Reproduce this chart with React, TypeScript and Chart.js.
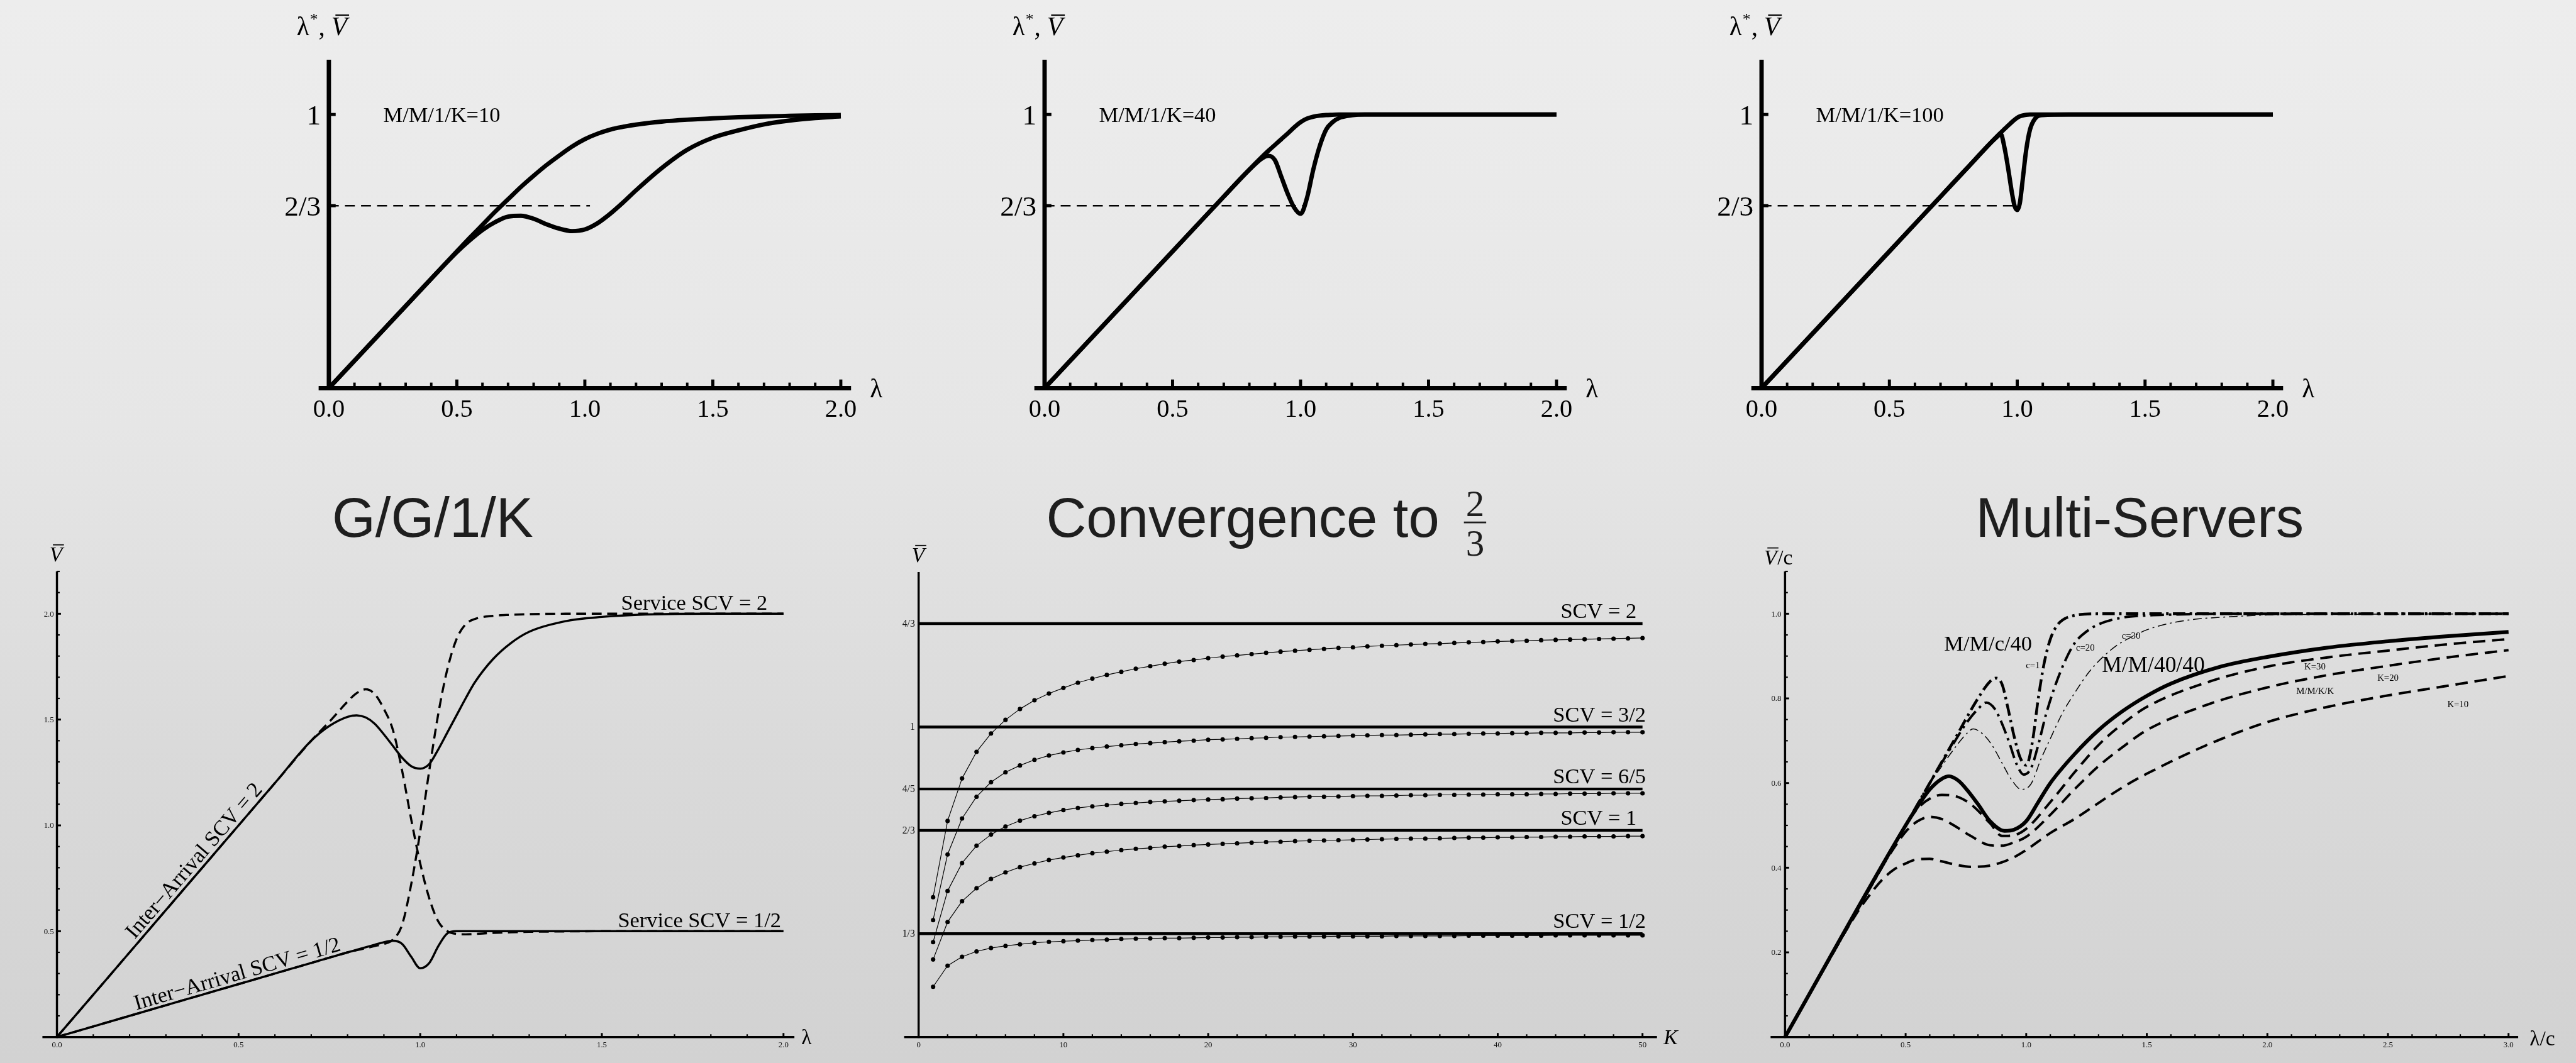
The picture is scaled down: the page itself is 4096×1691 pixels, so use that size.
import React, { useEffect, useRef } from "react";
import { Chart, registerables } from "chart.js";

Chart.register(...registerables);

const SCALE = 4096 / 4162;
const PAGE_W = 4096;
const PAGE_H = 1691;
const SERIF = '"Liberation Serif", "Times New Roman", serif';
const SANS = '"Liberation Sans", Arial, Helvetica, sans-serif';
const INK = "#000";
const TITLE_INK = "#1e1e1e";

// ---------- M/M/1/K, K = 10 ----------
const k10Lambda = [0, 0.1, 0.2, 0.3, 0.4, 0.5, 0.55, 0.6, 0.65, 0.7, 0.75, 0.8, 0.85, 0.9, 0.95, 1.0, 1.05, 1.1, 1.15, 1.2, 1.3, 1.4, 1.5, 1.6, 1.7, 1.8, 1.9, 2.0];
const k10Throughput = [0, 0.1, 0.2, 0.3, 0.4, 0.5, 0.549, 0.597, 0.645, 0.69, 0.735, 0.776, 0.815, 0.85, 0.883, 0.91, 0.93, 0.945, 0.955, 0.963, 0.974, 0.981, 0.986, 0.99, 0.993, 0.995, 0.997, 0.998];
const k10Variance = [0, 0.1, 0.2, 0.3, 0.4, 0.497, 0.54, 0.578, 0.607, 0.627, 0.63, 0.619, 0.599, 0.583, 0.574, 0.58, 0.603, 0.638, 0.679, 0.723, 0.804, 0.871, 0.915, 0.942, 0.964, 0.978, 0.987, 0.993];

// ---------- M/M/1/K, K = 40 ----------
const k40Lambda = [0, 0.1, 0.2, 0.3, 0.4, 0.5, 0.6, 0.7, 0.8, 0.85, 0.875, 0.9, 0.925, 0.95, 0.975, 1.0, 1.025, 1.05, 1.075, 1.1, 1.125, 1.15, 1.2, 1.25, 1.3, 1.4, 1.6, 1.8, 2.0];
const k40Throughput = [0, 0.1, 0.2, 0.3, 0.4, 0.5, 0.6, 0.7, 0.799, 0.846, 0.868, 0.889, 0.91, 0.931, 0.953, 0.972, 0.985, 0.992, 0.996, 0.998, 0.999, 1, 1, 1, 1, 1, 1, 1, 1];
const k40Variance = [0, 0.1, 0.2, 0.3, 0.4, 0.5, 0.6, 0.7, 0.798, 0.84, 0.849, 0.833, 0.772, 0.71, 0.66, 0.637, 0.695, 0.8, 0.885, 0.945, 0.972, 0.987, 0.997, 1, 1, 1, 1, 1, 1];

// ---------- M/M/1/K, K = 100 ----------
const k100Lambda = [0, 0.1, 0.2, 0.3, 0.4, 0.5, 0.6, 0.7, 0.8, 0.9, 0.925, 0.935, 0.95, 0.965, 0.98, 0.99, 1.0, 1.01, 1.02, 1.035, 1.05, 1.07, 1.1, 1.2, 1.5, 2.0];
const k100Throughput = [0, 0.1, 0.2, 0.3, 0.4, 0.5, 0.6, 0.7, 0.8, 0.9, 0.924, 0.933, 0.947, 0.96, 0.973, 0.981, 0.988, 0.993, 0.996, 0.999, 1, 1, 1, 1, 1, 1];
const k100Variance = [0, 0.1, 0.2, 0.3, 0.4, 0.5, 0.6, 0.7, 0.8, 0.9, 0.922, 0.93, 0.88, 0.8, 0.71, 0.665, 0.651, 0.675, 0.75, 0.87, 0.945, 0.985, 0.998, 1, 1, 1];

// ---------- G/G/1/K ----------
const ggkLambda = [0, 0.1, 0.2, 0.3, 0.4, 0.5, 0.6, 0.7, 0.75, 0.8, 0.825, 0.85, 0.875, 0.9, 0.925, 0.95, 0.975, 1.0, 1.025, 1.05, 1.075, 1.1, 1.125, 1.15, 1.2, 1.25, 1.3, 1.4, 1.5, 1.6, 1.8, 2.0];
// inter-arrival SCV 2, service SCV 2 (solid)
const ggkArr2Svc2 = [0, 0.2, 0.4, 0.6, 0.8, 1.0, 1.2, 1.4, 1.47, 1.513, 1.52, 1.51, 1.48, 1.43, 1.375, 1.32, 1.28, 1.268, 1.29, 1.36, 1.44, 1.52, 1.6, 1.675, 1.785, 1.862, 1.915, 1.965, 1.985, 1.995, 2.0, 2.0];
// inter-arrival SCV 2, service SCV 1/2 (dashed)
const ggkArr2SvcHalf = [0, 0.2, 0.4, 0.6, 0.8, 1.0, 1.2, 1.4, 1.49, 1.585, 1.625, 1.643, 1.62, 1.55, 1.45, 1.26, 1.03, 0.82, 0.655, 0.545, 0.5, 0.487, 0.485, 0.487, 0.492, 0.495, 0.497, 0.499, 0.5, 0.5, 0.5, 0.5];
// inter-arrival SCV 1/2, service SCV 2 (dashed)
const ggkArrHalfSvc2 = [0, 0.05, 0.1, 0.15, 0.2, 0.25, 0.3, 0.35, 0.375, 0.4, 0.41, 0.42, 0.43, 0.44, 0.46, 0.53, 0.72, 0.97, 1.26, 1.53, 1.74, 1.88, 1.95, 1.975, 1.99, 1.995, 1.998, 2.0, 2.0, 2.0, 2.0, 2.0];
// inter-arrival SCV 1/2, service SCV 1/2 (solid)
const ggkArrHalfSvcHalf = [0, 0.05, 0.1, 0.15, 0.2, 0.25, 0.3, 0.35, 0.375, 0.4, 0.412, 0.424, 0.436, 0.448, 0.455, 0.44, 0.38, 0.325, 0.35, 0.43, 0.49, 0.5, 0.5, 0.5, 0.5, 0.5, 0.5, 0.5, 0.5, 0.5, 0.5, 0.5];

// ---------- Convergence to 2/3 ----------
const bufferSizes = [1, 2, 3, 4, 5, 6, 7, 8, 9, 10, 11, 12, 13, 14, 15, 16, 17, 18, 19, 20, 21, 22, 23, 24, 25, 26, 27, 28, 29, 30, 31, 32, 33, 34, 35, 36, 37, 38, 39, 40, 41, 42, 43, 44, 45, 46, 47, 48, 49, 50];
const limitSpan = [0, 50];
const scvLimits = [4 / 3, 1, 4 / 5, 2 / 3, 1 / 3];
const scvLimitTickLabels = ["4/3", "1", "4/5", "2/3", "1/3"];
const scvCurveLabels = ["SCV = 2", "SCV = 3/2", "SCV = 6/5", "SCV = 1", "SCV = 1/2"];
const vbarScv2 = [0.451, 0.697, 0.834, 0.92, 0.979, 1.023, 1.058, 1.086, 1.108, 1.126, 1.143, 1.156, 1.168, 1.178, 1.188, 1.196, 1.204, 1.211, 1.216, 1.222, 1.227, 1.231, 1.235, 1.239, 1.243, 1.246, 1.249, 1.252, 1.255, 1.257, 1.26, 1.262, 1.264, 1.266, 1.268, 1.269, 1.271, 1.273, 1.274, 1.276, 1.277, 1.278, 1.28, 1.281, 1.282, 1.283, 1.284, 1.285, 1.286, 1.287];
const vbarScv3_2 = [0.377, 0.589, 0.705, 0.775, 0.822, 0.854, 0.876, 0.894, 0.908, 0.918, 0.926, 0.932, 0.937, 0.941, 0.945, 0.948, 0.951, 0.954, 0.956, 0.959, 0.96, 0.962, 0.964, 0.965, 0.967, 0.968, 0.969, 0.97, 0.971, 0.972, 0.973, 0.974, 0.974, 0.975, 0.976, 0.977, 0.977, 0.978, 0.979, 0.979, 0.98, 0.98, 0.981, 0.981, 0.981, 0.982, 0.982, 0.983, 0.983, 0.983];
const vbarScv6_5 = [0.306, 0.471, 0.561, 0.617, 0.653, 0.679, 0.698, 0.712, 0.723, 0.732, 0.739, 0.744, 0.748, 0.752, 0.755, 0.758, 0.76, 0.762, 0.764, 0.766, 0.767, 0.769, 0.77, 0.771, 0.773, 0.774, 0.775, 0.775, 0.776, 0.777, 0.778, 0.778, 0.779, 0.78, 0.78, 0.781, 0.781, 0.782, 0.782, 0.783, 0.783, 0.783, 0.784, 0.784, 0.785, 0.785, 0.785, 0.786, 0.786, 0.786];
const vbarScv1 = [0.25, 0.371, 0.438, 0.48, 0.51, 0.531, 0.548, 0.56, 0.571, 0.579, 0.586, 0.593, 0.598, 0.603, 0.607, 0.61, 0.614, 0.616, 0.619, 0.621, 0.623, 0.625, 0.627, 0.629, 0.63, 0.632, 0.633, 0.634, 0.635, 0.636, 0.637, 0.638, 0.639, 0.64, 0.64, 0.641, 0.642, 0.643, 0.643, 0.644, 0.644, 0.645, 0.645, 0.646, 0.646, 0.647, 0.647, 0.647, 0.648, 0.648];
const vbarScv1_2 = [0.162, 0.23, 0.259, 0.276, 0.287, 0.294, 0.299, 0.304, 0.307, 0.309, 0.311, 0.313, 0.314, 0.316, 0.317, 0.318, 0.319, 0.319, 0.32, 0.321, 0.321, 0.322, 0.322, 0.323, 0.323, 0.324, 0.324, 0.324, 0.325, 0.325, 0.325, 0.325, 0.326, 0.326, 0.326, 0.326, 0.326, 0.327, 0.327, 0.327, 0.327, 0.327, 0.327, 0.328, 0.328, 0.328, 0.328, 0.328, 0.328, 0.328];

// ---------- Multi-servers ----------
const mmc40c1Load = [0, 0.5, 0.7, 0.8, 0.85, 0.875, 0.9, 0.925, 0.95, 0.975, 1.0, 1.025, 1.05, 1.075, 1.1, 1.125, 1.15, 1.2, 1.3, 1.5, 2.0, 3.0];
const mmc40c1 = [0, 0.5, 0.7, 0.8, 0.84, 0.848, 0.833, 0.775, 0.71, 0.66, 0.642, 0.695, 0.8, 0.885, 0.94, 0.97, 0.985, 0.996, 1, 1, 1, 1];
const mmc40c20Load = [0, 0.5, 0.6, 0.7, 0.75, 0.8, 0.835, 0.87, 0.9, 0.93, 0.96, 0.99, 1.02, 1.05, 1.08, 1.12, 1.16, 1.2, 1.25, 1.3, 1.4, 1.5, 1.6, 1.8, 2.0, 3.0];
const mmc40c20 = [0, 0.5, 0.6, 0.695, 0.74, 0.775, 0.79, 0.775, 0.74, 0.695, 0.645, 0.62, 0.635, 0.69, 0.758, 0.83, 0.887, 0.93, 0.958, 0.975, 0.991, 0.996, 0.998, 1, 1, 1];
const mmc40c30Load = [0, 0.5, 0.6, 0.65, 0.7, 0.75, 0.78, 0.82, 0.86, 0.9, 0.94, 0.98, 1.02, 1.06, 1.1, 1.15, 1.2, 1.26, 1.32, 1.38, 1.44, 1.5, 1.6, 1.7, 1.85, 2.0, 2.5, 3.0];
const mmc40c30 = [0, 0.5, 0.598, 0.64, 0.68, 0.715, 0.728, 0.716, 0.688, 0.647, 0.607, 0.585, 0.598, 0.655, 0.705, 0.765, 0.812, 0.862, 0.899, 0.927, 0.946, 0.962, 0.978, 0.987, 0.993, 0.997, 0.999, 1];
const mm4040Load = [0, 0.5, 0.55, 0.6, 0.65, 0.68, 0.72, 0.76, 0.8, 0.85, 0.91, 0.95, 1.0, 1.05, 1.1, 1.2, 1.3, 1.4, 1.5, 1.6, 1.8, 2.0, 2.25, 2.5, 2.75, 3.0];
const mm4040 = [0, 0.5, 0.545, 0.585, 0.61, 0.616, 0.605, 0.58, 0.55, 0.51, 0.487, 0.49, 0.51, 0.555, 0.6, 0.668, 0.725, 0.77, 0.806, 0.835, 0.874, 0.898, 0.92, 0.935, 0.947, 0.957];
const mmkkLoad = [0, 0.3, 0.35, 0.4, 0.45, 0.5, 0.55, 0.6, 0.65, 0.7, 0.77, 0.85, 0.9, 0.95, 1.0, 1.1, 1.2, 1.3, 1.4, 1.5, 1.75, 2.0, 2.25, 2.5, 2.75, 3.0];
const mmkkK30 = [0, 0.3, 0.35, 0.4, 0.45, 0.5, 0.54, 0.563, 0.572, 0.57, 0.55, 0.505, 0.475, 0.477, 0.492, 0.555, 0.625, 0.69, 0.74, 0.78, 0.838, 0.875, 0.897, 0.913, 0.928, 0.94];
const mmkkK20 = [0, 0.3, 0.35, 0.4, 0.445, 0.485, 0.51, 0.52, 0.515, 0.5, 0.475, 0.453, 0.452, 0.46, 0.473, 0.525, 0.585, 0.64, 0.685, 0.725, 0.785, 0.826, 0.855, 0.877, 0.897, 0.914];
const mmkkK10 = [0, 0.295, 0.335, 0.37, 0.395, 0.41, 0.42, 0.421, 0.415, 0.408, 0.402, 0.405, 0.413, 0.425, 0.442, 0.482, 0.515, 0.553, 0.59, 0.622, 0.69, 0.744, 0.78, 0.807, 0.83, 0.853];

// ---------- tick labels ----------
const topLambdaTicks = [0, 0.5, 1, 1.5, 2];
const topLambdaTickLabels = ["0.0", "0.5", "1.0", "1.5", "2.0"];
const topLevelTicks = [2 / 3, 1];
const topLevelTickLabels = ["2/3", "1"];
const ggkXTicks = [0, 0.5, 1, 1.5, 2];
const ggkXTickLabels = ["0.0", "0.5", "1.0", "1.5", "2.0"];
const ggkYTicks = [0.5, 1, 1.5, 2];
const ggkYTickLabels = ["0.5", "1.0", "1.5", "2.0"];
const convXTicks = [0, 10, 20, 30, 40, 50];
const convXTickLabels = ["0", "10", "20", "30", "40", "50"];
const multiXTicks = [0, 0.5, 1, 1.5, 2, 2.5, 3];
const multiXTickLabels = ["0.0", "0.5", "1.0", "1.5", "2.0", "2.5", "3.0"];
const multiYTicks = [0.2, 0.4, 0.6, 0.8, 1];
const multiYTickLabels = ["0.2", "0.4", "0.6", "0.8", "1.0"];

// ---------- drawing helpers ----------
type Curve = { xs: number[]; ys: number[]; width: number; dash?: number[]; dotRadius?: number; straight?: boolean };
type Draw = { ctx: CanvasRenderingContext2D; X: (v: number) => number; Y: (v: number) => number };
type PanelSpec = {
  box: number[]; // canvas region on the page: left, top, right, bottom
  area: number[]; // plot region: left, top, right, bottom
  xRange: number[];
  yRange: number[];
  curves: Curve[];
  decorate: (d: Draw) => void;
};

function seg(ctx: CanvasRenderingContext2D, x1: number, y1: number, x2: number, y2: number) {
  ctx.beginPath();
  ctx.moveTo(x1, y1);
  ctx.lineTo(x2, y2);
  ctx.stroke();
}

function text(ctx: CanvasRenderingContext2D, s: string, x: number, y: number, size: number, align: CanvasTextAlign = "left", family = SERIF, style = "") {
  ctx.font = `${style} ${size}px ${family}`.trim();
  ctx.textAlign = align;
  ctx.textBaseline = "alphabetic";
  ctx.fillText(s, x, y);
  return ctx.measureText(s).width;
}

// italic V with an overline; returns the width used
function vBar(ctx: CanvasRenderingContext2D, x: number, base: number, size: number) {
  const w = text(ctx, "V", x, base, size, "left", SERIF, "italic");
  ctx.fillRect(x + size * 0.16, base - size * 0.8, w * 0.86, Math.max(1.6, size * 0.05));
  return w;
}

function tickUp(ctx: CanvasRenderingContext2D, x: number, y: number, major: boolean, minorLen: number, majorLen: number, minorW: number, majorW: number) {
  ctx.lineWidth = major ? majorW : minorW;
  seg(ctx, x, y, x, y - (major ? majorLen : minorLen));
}

function tickRight(ctx: CanvasRenderingContext2D, x: number, y: number, major: boolean, minorLen: number, majorLen: number, minorW: number, majorW: number) {
  ctx.lineWidth = major ? majorW : minorW;
  seg(ctx, x, y, x + (major ? majorLen : minorLen), y);
}

// ---------- top row: M/M/1/K ----------
const topDecorate = (model: string, dashEnd: number) => ({ ctx, X, Y }: Draw) => {
  ctx.lineCap = "butt";
  ctx.lineWidth = 2.5;
  ctx.setLineDash([16, 10]);
  seg(ctx, X(0), Y(2 / 3), X(dashEnd), Y(2 / 3));
  ctx.setLineDash([]);

  ctx.lineWidth = 7;
  seg(ctx, X(-0.04), Y(0), X(2.04), Y(0));
  seg(ctx, X(0), Y(0) + 3.5, X(0), Y(1.2));
  for (let i = 1; i <= 20; i++) tickUp(ctx, X(i / 10), Y(0), i % 5 === 0, 9, 14, 4, 5);
  topLevelTicks.forEach((v, i) => {
    tickRight(ctx, X(0), Y(v), true, 0, 11, 0, 5);
    text(ctx, topLevelTickLabels[i], X(0) - 13, Y(v) + 16, 46, "right");
  });
  topLambdaTicks.forEach((v, i) => text(ctx, topLambdaTickLabels[i], X(v), Y(0) + 46, 41, "center"));
  text(ctx, "λ", X(2) + 47, Y(0) + 15, 42);
  text(ctx, model, X(0) + 88, Y(1) + 12, 35);

  // axis caption: λ*, V̄
  let cx = X(0) - 52;
  const base = 57;
  cx += text(ctx, "λ", cx, base, 42);
  cx += text(ctx, "*", cx + 1, base - 17, 26) + 2;
  cx += text(ctx, ",", cx, base, 42) + 10;
  vBar(ctx, cx, base, 42);
};

const topCurves = (xs: number[], a: number[], b: number[]): Curve[] => [
  { xs, ys: a, width: 7 },
  { xs, ys: b, width: 7 },
];

const panelK10: PanelSpec = {
  box: [400, 0, 1480, 720],
  area: [531, 96.6, 1358, 627],
  xRange: [0, 2],
  yRange: [0, 1.2],
  curves: topCurves(k10Lambda, k10Throughput, k10Variance),
  decorate: topDecorate("M/M/1/K=10", 1.02),
};

const panelK40: PanelSpec = {
  box: [1560, 0, 2640, 720],
  area: [1688, 96.6, 2515, 627],
  xRange: [0, 2],
  yRange: [0, 1.2],
  curves: topCurves(k40Lambda, k40Throughput, k40Variance),
  decorate: topDecorate("M/M/1/K=40", 1.02),
};

const panelK100: PanelSpec = {
  box: [2720, 0, 3800, 720],
  area: [2846, 96.6, 3672, 627],
  xRange: [0, 2],
  yRange: [0, 1.2],
  curves: topCurves(k100Lambda, k100Throughput, k100Variance),
  decorate: topDecorate("M/M/1/K=100", 1.0),
};

// ---------- bottom left: G/G/1/K ----------
const panelGGK: PanelSpec = {
  box: [0, 760, 1380, 1718],
  area: [92, 923.6, 1266, 1676],
  xRange: [0, 2],
  yRange: [0, 2.2],
  curves: [
    { xs: ggkLambda, ys: ggkArr2SvcHalf, width: 3.5, dash: [16, 9] },
    { xs: ggkLambda, ys: ggkArrHalfSvc2, width: 3.5, dash: [16, 9] },
    { xs: ggkLambda, ys: ggkArr2Svc2, width: 3.5 },
    { xs: ggkLambda, ys: ggkArrHalfSvcHalf, width: 3.5 },
  ],
  decorate: ({ ctx, X, Y }) => {
    ctx.lineCap = "butt";
    ctx.lineWidth = 3.5;
    seg(ctx, X(-0.04), Y(0), X(2.03), Y(0));
    seg(ctx, X(0), Y(0) + 1.7, X(0), Y(2.2));
    for (let i = 1; i <= 20; i++) tickUp(ctx, X(i / 10), Y(0), i % 5 === 0, 4.5, 6.5, 2.2, 3);
    for (let i = 1; i <= 22; i++) tickRight(ctx, X(0), Y(i / 10), i % 5 === 0, 4.5, 6.5, 2.2, 3);
    ctx.fillStyle = "#111";
    ggkXTicks.forEach((v, i) => text(ctx, ggkXTickLabels[i], X(v), Y(0) + 17, 13, "center"));
    ggkYTicks.forEach((v, i) => text(ctx, ggkYTickLabels[i], X(0) - 5, Y(v) + 4.5, 13, "right"));
    ctx.fillStyle = INK;

    vBar(ctx, 80, 907, 34);
    text(ctx, "λ", X(2) + 29, Y(0) + 12, 34);

    text(ctx, "Service SCV = 2", 1240, Y(2) - 6, 35, "right");
    text(ctx, "Service SCV = 1/2", 1262, Y(0.5) - 6, 35, "right");

    const steep = Math.atan2(Y(0) - Y(2), X(1) - X(0));
    ctx.save();
    ctx.translate(X(0.4), Y(0.8));
    ctx.rotate(-steep);
    text(ctx, "Inter\u2212Arrival SCV = 2", 0, -7, 35, "center");
    ctx.restore();

    const shallow = Math.atan2(Y(0) - Y(0.5), X(1) - X(0));
    ctx.save();
    ctx.translate(X(0.504), Y(0.252));
    ctx.rotate(-shallow);
    text(ctx, "Inter\u2212Arrival SCV = 1/2", 0, -6, 35, "center");
    ctx.restore();

    ctx.fillStyle = TITLE_INK;
    text(ctx, "G/G/1/K", 699, 868, 90, "center", SANS);
  },
};

// ---------- bottom middle: convergence ----------
const convCurveValues = [vbarScv2, vbarScv3_2, vbarScv6_5, vbarScv1, vbarScv1_2];
const scvLabelRight = [2644, 2659, 2659, 2644, 2659];

const panelConv: PanelSpec = {
  box: [1400, 760, 2760, 1718],
  area: [1484, 924.5, 2654, 1676],
  xRange: [0, 50],
  yRange: [0, 1.5],
  curves: [
    ...scvLimits.map((v) => ({ xs: limitSpan, ys: [v, v], width: 4.5, straight: true })),
    ...convCurveValues.map((ys) => ({ xs: bufferSizes, ys, width: 1.2, dotRadius: 3.6, straight: true })),
  ],
  decorate: ({ ctx, X, Y }) => {
    ctx.lineCap = "butt";
    ctx.lineWidth = 3.5;
    seg(ctx, X(-1), Y(0), X(51), Y(0));
    seg(ctx, X(0), Y(0) + 1.7, X(0), Y(1.5));
    for (let k = 2; k <= 50; k += 2) tickUp(ctx, X(k), Y(0), k % 10 === 0, 4.5, 6.5, 2.2, 3);
    ctx.fillStyle = "#111";
    convXTicks.forEach((v, i) => text(ctx, convXTickLabels[i], X(v), Y(0) + 17, 13, "center"));
    scvLimits.forEach((v, i) => text(ctx, scvLimitTickLabels[i], X(0) - 6, Y(v) + 5, 16, "right"));
    ctx.fillStyle = INK;

    scvLimits.forEach((v, i) => text(ctx, scvCurveLabels[i], scvLabelRight[i], Y(v) - 9, 35, "right"));

    vBar(ctx, 1473, 908, 34);
    text(ctx, "K", X(50) + 34, Y(0) + 12, 34, "left", SERIF, "italic");

    ctx.fillStyle = TITLE_INK;
    text(ctx, "Convergence to", 1690, 868, 90, "left", SANS);
    text(ctx, "2", 2383, 834, 60, "center", SERIF);
    ctx.fillRect(2365, 843, 36, 2.8);
    text(ctx, "3", 2383, 898, 60, "center", SERIF);
  },
};

// ---------- bottom right: multi-servers ----------
const panelMulti: PanelSpec = {
  box: [2780, 760, 4162, 1718],
  area: [2884, 923.6, 4053, 1676],
  xRange: [0, 3],
  yRange: [0, 1.1],
  curves: [
    { xs: mmkkLoad, ys: mmkkK10, width: 4, dash: [20, 11] },
    { xs: mmkkLoad, ys: mmkkK20, width: 4, dash: [20, 11] },
    { xs: mmkkLoad, ys: mmkkK30, width: 4, dash: [20, 11] },
    { xs: mmc40c30Load, ys: mmc40c30, width: 1.5, dash: [14, 6, 3, 6] },
    { xs: mmc40c20Load, ys: mmc40c20, width: 4, dash: [22, 8, 4, 8] },
    { xs: mmc40c1Load, ys: mmc40c1, width: 4.5, dash: [20, 7, 4, 7] },
    { xs: mm4040Load, ys: mm4040, width: 6 },
  ],
  decorate: ({ ctx, X, Y }) => {
    ctx.lineCap = "butt";
    ctx.lineWidth = 3.5;
    seg(ctx, X(-0.06), Y(0), X(3.04), Y(0));
    seg(ctx, X(0), Y(0) + 1.7, X(0), Y(1.1));
    for (let i = 1; i <= 30; i++) tickUp(ctx, X(i / 10), Y(0), i % 5 === 0, 4.5, 6.5, 2.2, 3);
    for (let i = 1; i <= 22; i++) tickRight(ctx, X(0), Y(i * 0.05), i % 4 === 0, 4.5, 6.5, 2.2, 3);
    ctx.fillStyle = "#111";
    multiXTicks.forEach((v, i) => text(ctx, multiXTickLabels[i], X(v), Y(0) + 17, 13, "center"));
    multiYTicks.forEach((v, i) => text(ctx, multiYTickLabels[i], X(0) - 6, Y(v) + 4.5, 13, "right"));
    ctx.fillStyle = INK;

    const w = vBar(ctx, 2850, 912, 34);
    text(ctx, "/c", 2850 + w + 1, 912, 34);
    text(ctx, "λ/c", X(3) + 34, Y(0) + 14, 34);

    text(ctx, "M/M/c/40", 3141, 1052, 35);
    text(ctx, "M/M/40/40", 3396, 1086, 36);
    text(ctx, "c=1", 3273, 1080, 15);
    text(ctx, "c=20", 3354, 1052, 15);
    text(ctx, "c=30", 3428, 1032, 15);
    text(ctx, "K=30", 3723, 1082, 15);
    text(ctx, "K=20", 3841, 1100, 15);
    text(ctx, "M/M/K/K", 3710, 1122, 15);
    text(ctx, "K=10", 3954, 1143, 15);

    ctx.fillStyle = TITLE_INK;
    text(ctx, "Multi-Servers", 3457, 868, 90, "center", SANS);
  },
};

const PANELS: PanelSpec[] = [panelK10, panelK40, panelK100, panelGGK, panelConv, panelMulti];

function PanelChart({ spec }: { spec: PanelSpec }) {
  const ref = useRef<HTMLCanvasElement>(null);
  const [bx0, by0, bx1, by1] = spec.box;
  const w = Math.round((bx1 - bx0) * SCALE);
  const h = Math.round((by1 - by0) * SCALE);

  useEffect(() => {
    const canvas = ref.current;
    if (!canvas) return;
    const [ax0, ay0, ax1, ay1] = spec.area;
    const overlay = {
      id: "panelOverlay",
      afterDatasetsDraw(chart: any) {
        const ctx: CanvasRenderingContext2D = chart.ctx;
        const X = (v: number) => chart.scales.x.getPixelForValue(v) / SCALE + bx0;
        const Y = (v: number) => chart.scales.y.getPixelForValue(v) / SCALE + by0;
        ctx.save();
        ctx.scale(SCALE, SCALE);
        ctx.translate(-bx0, -by0);
        ctx.fillStyle = INK;
        ctx.strokeStyle = INK;
        spec.decorate({ ctx, X, Y });
        ctx.restore();
      },
    };
    const chart = new Chart(canvas, {
      type: "scatter",
      data: {
        datasets: spec.curves.map((c) => ({
          data: c.xs.map((x, i) => ({ x, y: c.ys[i] })),
          showLine: true,
          borderColor: INK,
          backgroundColor: INK,
          borderWidth: c.width * SCALE,
          borderDash: (c.dash || []).map((d) => d * SCALE),
          borderCapStyle: "butt",
          borderJoinStyle: "round",
          pointRadius: (c.dotRadius || 0) * SCALE,
          pointHoverRadius: 0,
          pointBorderWidth: 0,
          pointBackgroundColor: INK,
          cubicInterpolationMode: c.straight ? "default" : "monotone",
          tension: 0,
          clip: false,
        })),
      },
      options: {
        animation: false,
        responsive: false,
        maintainAspectRatio: false,
        devicePixelRatio: 1,
        events: [],
        layout: {
          padding: {
            left: (ax0 - bx0) * SCALE,
            top: (ay0 - by0) * SCALE,
            right: (bx1 - ax1) * SCALE,
            bottom: (by1 - ay1) * SCALE,
          },
        },
        scales: {
          x: { type: "linear", display: false, min: spec.xRange[0], max: spec.xRange[1] },
          y: { type: "linear", display: false, min: spec.yRange[0], max: spec.yRange[1] },
        },
        plugins: { legend: { display: false }, tooltip: { enabled: false }, title: { display: false } },
      },
      plugins: [overlay],
    } as any);
    return () => chart.destroy();
  }, [spec]);

  return (
    <canvas
      ref={ref}
      width={w}
      height={h}
      style={{ position: "absolute", left: Math.round(bx0 * SCALE), top: Math.round(by0 * SCALE), width: w, height: h }}
    />
  );
}

export default function App() {
  useEffect(() => {
    document.body.style.margin = "0";
  }, []);
  return (
    <div
      style={{
        position: "fixed",
        left: 0,
        top: 0,
        width: PAGE_W,
        height: PAGE_H,
        overflow: "hidden",
        background: "linear-gradient(to bottom, #ededed 0%, #e6e6e6 40%, #dadada 70%, #d2d2d2 100%)",
      }}
    >
      {PANELS.map((p, i) => (
        <PanelChart key={i} spec={p} />
      ))}
    </div>
  );
}
